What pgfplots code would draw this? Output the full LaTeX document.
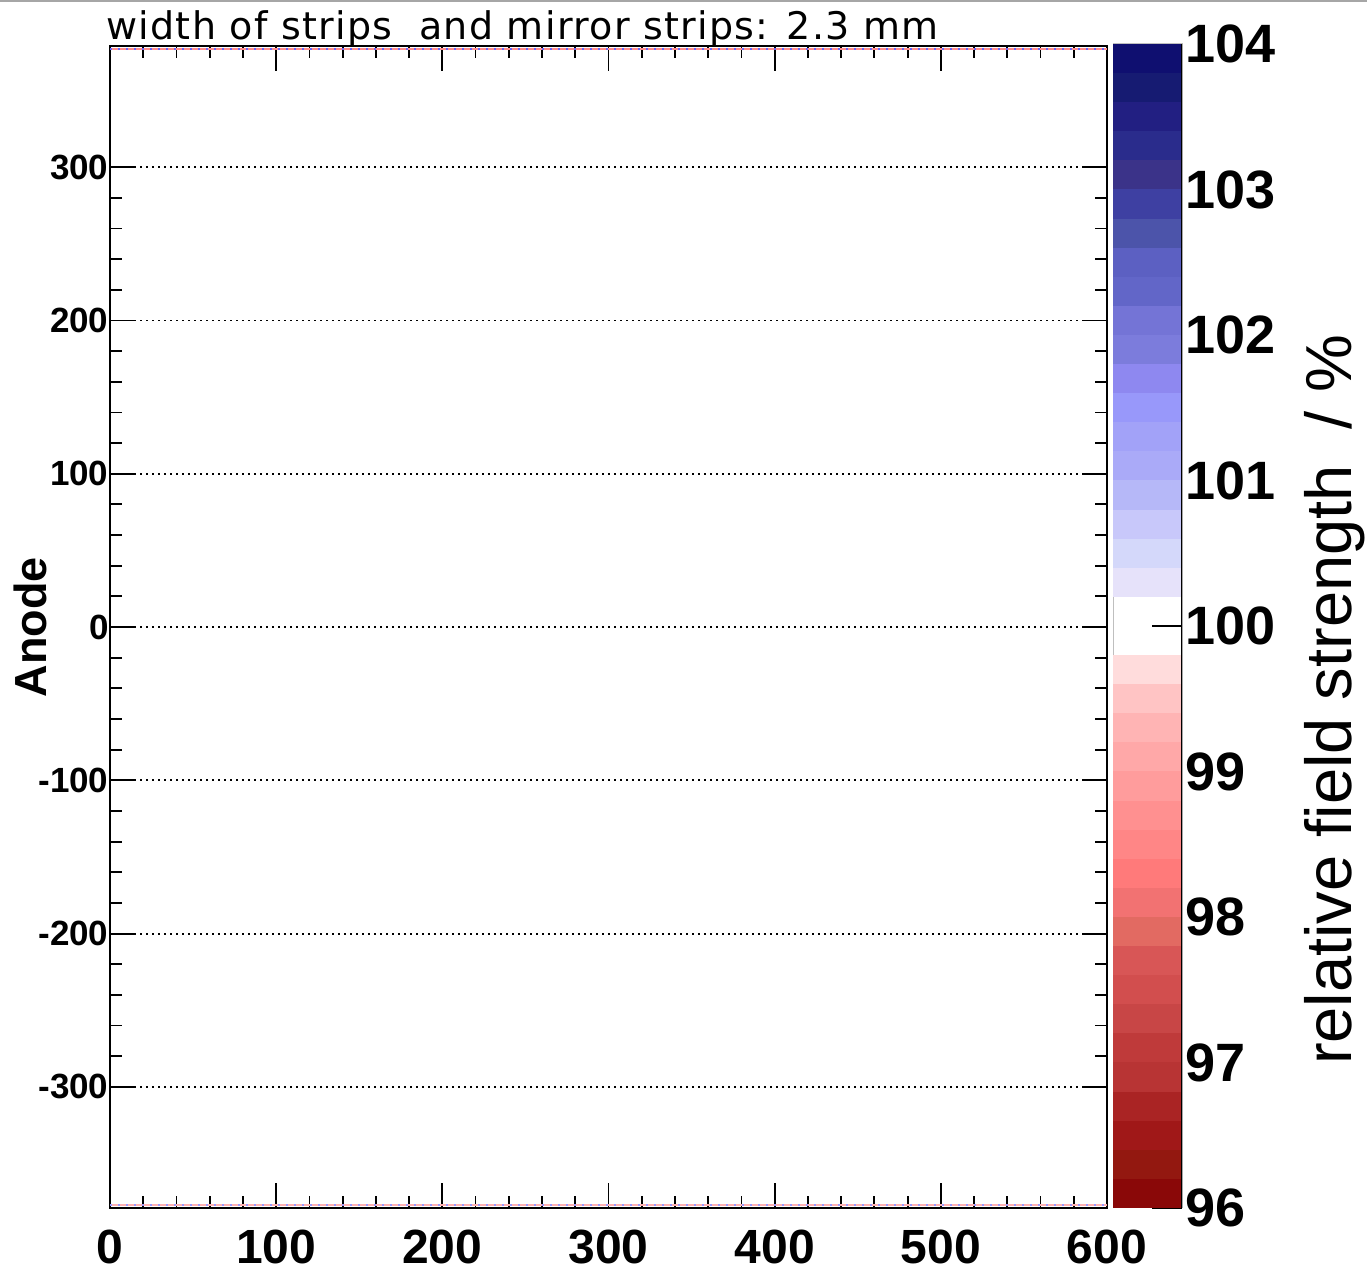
\documentclass[border=0pt]{standalone}
\usepackage{fontspec}
\setmainfont{Liberation Sans}
\newfontfamily\titlefont[LetterSpace=3.5]{DejaVu Sans}
\usepackage{pgfplots}
\pgfplotsset{compat=1.18}
% blue bands, b1 = 103.8-104 (darkest) ... b19 = 100.2-100.4 (lightest)
\definecolor{b1}{HTML}{0F0F70}
\definecolor{b2}{HTML}{161B72}
\definecolor{b3}{HTML}{221F82}
\definecolor{b4}{HTML}{2A2C8C}
\definecolor{b5}{HTML}{3B3389}
\definecolor{b6}{HTML}{3E40A2}
\definecolor{b7}{HTML}{4C54AA}
\definecolor{b8}{HTML}{5C60C2}
\definecolor{b9}{HTML}{6266C8}
\definecolor{b10}{HTML}{7474D6}
\definecolor{b11}{HTML}{7C7CDC}
\definecolor{b12}{HTML}{8E88F0}
\definecolor{b13}{HTML}{9898FA}
\definecolor{b14}{HTML}{A2A2F8}
\definecolor{b15}{HTML}{AAAAF8}
\definecolor{b16}{HTML}{B6B8F8}
\definecolor{b17}{HTML}{C8C8FA}
\definecolor{b18}{HTML}{D4D8FA}
\definecolor{b19}{HTML}{E6E2FA}
% red bands, r1 = 96.0-96.2 (darkest) ... r19 = 99.6-99.8 (lightest)
\definecolor{r1}{HTML}{8A0808}
\definecolor{r2}{HTML}{931810}
\definecolor{r3}{HTML}{A01818}
\definecolor{r4}{HTML}{AA2424}
\definecolor{r5}{HTML}{B83434}
\definecolor{r6}{HTML}{BF3A3A}
\definecolor{r7}{HTML}{C84646}
\definecolor{r8}{HTML}{D24E4E}
\definecolor{r9}{HTML}{D85656}
\definecolor{r10}{HTML}{E26A62}
\definecolor{r11}{HTML}{F27272}
\definecolor{r12}{HTML}{FF7A7A}
\definecolor{r13}{HTML}{FF8686}
\definecolor{r14}{HTML}{FF9090}
\definecolor{r15}{HTML}{FF9C9C}
\definecolor{r16}{HTML}{FFA8A8}
\definecolor{r17}{HTML}{FFB4B4}
\definecolor{r18}{HTML}{FFC4C4}
\definecolor{r19}{HTML}{FFDCDC}
\begin{document}
\begin{tikzpicture}[x=1pt,y=1pt]
\useasboundingbox (0,0) rectangle (1367,1276);
\draw[gray!70, line width=2pt] (0,1275) -- (1367,1275);
\begin{axis}[
  at={(110pt,68pt)}, anchor=south west,
  scale only axis, width=997pt, height=1162pt,
  xmin=0, xmax=600, ymin=-379, ymax=379,
  xtick={0,100,...,600}, ytick={-300,-200,...,300},
  minor x tick num=4, minor y tick num=4,
  tick align=inside,
  major tick length=25pt, minor tick length=12pt,
  every tick/.style={black, line width=1.8pt},
  axis line style={line width=1.8pt},
  ymajorgrids,
  major grid style={black, line width=1.8pt, dash pattern=on 1.8pt off 4.2pt},
  /pgf/number format/assume math mode=true,
  xticklabel style={font=\fontsize{48}{50}\selectfont\bfseries, yshift=-18pt},
  yticklabel style={font=\fontsize{35}{38}\selectfont\bfseries, xshift=2pt},
  ylabel={Anode},
  y label style={at={(axis description cs:-0.0795,0.5)}, anchor=center, font=\fontsize{45}{48}\selectfont\bfseries},
]
\addplot[red!45, line width=1.5pt] coordinates {(0,377) (600,377)};
\addplot[blue!60, line width=1.5pt, dash pattern=on 2pt off 6pt] coordinates {(0,377) (600,377)};
\addplot[red!30, line width=1.2pt] coordinates {(0,-377) (600,-377)};
\addplot[blue!40, line width=1.2pt, dash pattern=on 2pt off 6pt] coordinates {(0,-377) (600,-377)};
\end{axis}
\begin{axis}[
  at={(1113pt,68pt)}, anchor=south west,
  scale only axis, width=69pt, height=1164pt,
  xmin=0, xmax=1, ymin=96, ymax=104,
  xtick=\empty, ytick={96,97,...,104},
  ytick pos=right, yticklabel pos=right,
  tick align=inside, major tick length=30pt,
  every tick/.style={black, line width=1.8pt},
  axis line style={gray!50, line width=1pt},
  /pgf/number format/assume math mode=true,
  yticklabel style={font=\fontsize{54}{56}\selectfont\bfseries, anchor=west},
]
\addplot[fill=b1, draw=none] coordinates {(0,103.8) (1,103.8) (1,104.0) (0,104.0)} -- cycle;
\addplot[fill=b2, draw=none] coordinates {(0,103.6) (1,103.6) (1,103.8) (0,103.8)} -- cycle;
\addplot[fill=b3, draw=none] coordinates {(0,103.4) (1,103.4) (1,103.6) (0,103.6)} -- cycle;
\addplot[fill=b4, draw=none] coordinates {(0,103.2) (1,103.2) (1,103.4) (0,103.4)} -- cycle;
\addplot[fill=b5, draw=none] coordinates {(0,103.0) (1,103.0) (1,103.2) (0,103.2)} -- cycle;
\addplot[fill=b6, draw=none] coordinates {(0,102.8) (1,102.8) (1,103.0) (0,103.0)} -- cycle;
\addplot[fill=b7, draw=none] coordinates {(0,102.6) (1,102.6) (1,102.8) (0,102.8)} -- cycle;
\addplot[fill=b8, draw=none] coordinates {(0,102.4) (1,102.4) (1,102.6) (0,102.6)} -- cycle;
\addplot[fill=b9, draw=none] coordinates {(0,102.2) (1,102.2) (1,102.4) (0,102.4)} -- cycle;
\addplot[fill=b10, draw=none] coordinates {(0,102.0) (1,102.0) (1,102.2) (0,102.2)} -- cycle;
\addplot[fill=b11, draw=none] coordinates {(0,101.8) (1,101.8) (1,102.0) (0,102.0)} -- cycle;
\addplot[fill=b12, draw=none] coordinates {(0,101.6) (1,101.6) (1,101.8) (0,101.8)} -- cycle;
\addplot[fill=b13, draw=none] coordinates {(0,101.4) (1,101.4) (1,101.6) (0,101.6)} -- cycle;
\addplot[fill=b14, draw=none] coordinates {(0,101.2) (1,101.2) (1,101.4) (0,101.4)} -- cycle;
\addplot[fill=b15, draw=none] coordinates {(0,101.0) (1,101.0) (1,101.2) (0,101.2)} -- cycle;
\addplot[fill=b16, draw=none] coordinates {(0,100.8) (1,100.8) (1,101.0) (0,101.0)} -- cycle;
\addplot[fill=b17, draw=none] coordinates {(0,100.6) (1,100.6) (1,100.8) (0,100.8)} -- cycle;
\addplot[fill=b18, draw=none] coordinates {(0,100.4) (1,100.4) (1,100.6) (0,100.6)} -- cycle;
\addplot[fill=b19, draw=none] coordinates {(0,100.2) (1,100.2) (1,100.4) (0,100.4)} -- cycle;
\addplot[fill=r19, draw=none] coordinates {(0,99.6) (1,99.6) (1,99.8) (0,99.8)} -- cycle;
\addplot[fill=r18, draw=none] coordinates {(0,99.4) (1,99.4) (1,99.6) (0,99.6)} -- cycle;
\addplot[fill=r17, draw=none] coordinates {(0,99.2) (1,99.2) (1,99.4) (0,99.4)} -- cycle;
\addplot[fill=r16, draw=none] coordinates {(0,99.0) (1,99.0) (1,99.2) (0,99.2)} -- cycle;
\addplot[fill=r15, draw=none] coordinates {(0,98.8) (1,98.8) (1,99.0) (0,99.0)} -- cycle;
\addplot[fill=r14, draw=none] coordinates {(0,98.6) (1,98.6) (1,98.8) (0,98.8)} -- cycle;
\addplot[fill=r13, draw=none] coordinates {(0,98.4) (1,98.4) (1,98.6) (0,98.6)} -- cycle;
\addplot[fill=r12, draw=none] coordinates {(0,98.2) (1,98.2) (1,98.4) (0,98.4)} -- cycle;
\addplot[fill=r11, draw=none] coordinates {(0,98.0) (1,98.0) (1,98.2) (0,98.2)} -- cycle;
\addplot[fill=r10, draw=none] coordinates {(0,97.8) (1,97.8) (1,98.0) (0,98.0)} -- cycle;
\addplot[fill=r9, draw=none] coordinates {(0,97.6) (1,97.6) (1,97.8) (0,97.8)} -- cycle;
\addplot[fill=r8, draw=none] coordinates {(0,97.4) (1,97.4) (1,97.6) (0,97.6)} -- cycle;
\addplot[fill=r7, draw=none] coordinates {(0,97.2) (1,97.2) (1,97.4) (0,97.4)} -- cycle;
\addplot[fill=r6, draw=none] coordinates {(0,97.0) (1,97.0) (1,97.2) (0,97.2)} -- cycle;
\addplot[fill=r5, draw=none] coordinates {(0,96.8) (1,96.8) (1,97.0) (0,97.0)} -- cycle;
\addplot[fill=r4, draw=none] coordinates {(0,96.6) (1,96.6) (1,96.8) (0,96.8)} -- cycle;
\addplot[fill=r3, draw=none] coordinates {(0,96.4) (1,96.4) (1,96.6) (0,96.6)} -- cycle;
\addplot[fill=r2, draw=none] coordinates {(0,96.2) (1,96.2) (1,96.4) (0,96.4)} -- cycle;
\addplot[fill=r1, draw=none] coordinates {(0,96.0) (1,96.0) (1,96.2) (0,96.2)} -- cycle;
\draw[black, line width=2pt] (rel axis cs:1,0) -- (rel axis cs:1,1);
\end{axis}
\node[anchor=base west, inner sep=0pt, font=\titlefont\fontsize{38}{42}\selectfont] at (106,1236) {width of strips\ \ and mirror strips: 2.3 mm};
\node[rotate=90, anchor=base, inner sep=0pt, font=\fontsize{65}{70}\selectfont] at (1351,576) {relative field strength\ \ / \%};
\end{tikzpicture}
\end{document}
